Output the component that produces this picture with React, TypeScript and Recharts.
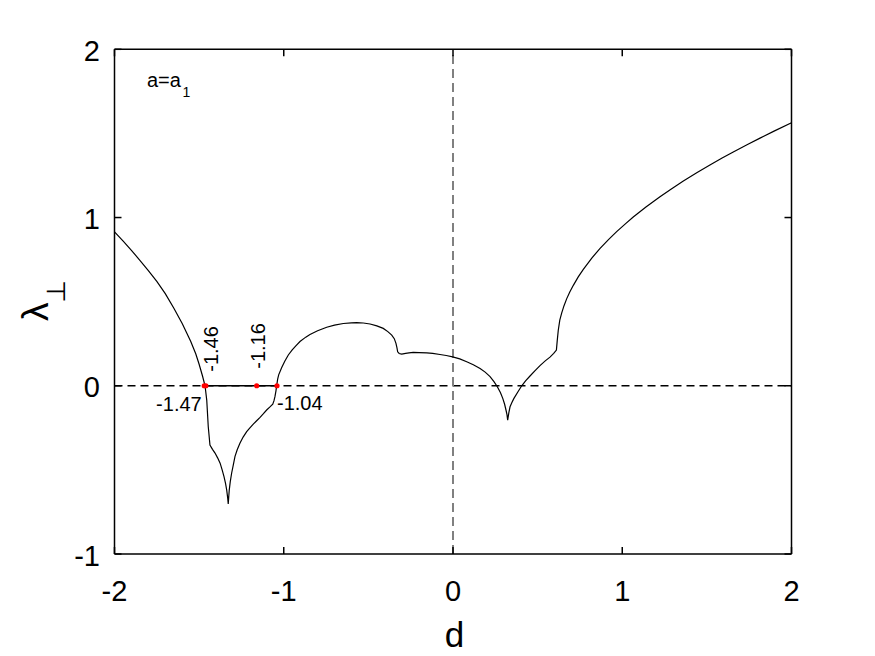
import React from 'react';
import {
  ComposedChart,
  Line,
  Scatter,
  XAxis,
  YAxis,
  ReferenceLine,
} from 'recharts';

// ---- data ----
const dValues = [
  -2.0, -1.95, -1.9, -1.85, -1.8, -1.75, -1.7, -1.65, -1.6, -1.55, -1.52, -1.5, -1.48, -1.465,
  -1.455, -1.446, -1.436, -1.421, -1.406, -1.39, -1.376, -1.364, -1.353, -1.344, -1.337, -1.332, -1.328,
  -1.325, -1.322, -1.316, -1.308, -1.298, -1.288, -1.275, -1.259, -1.24, -1.219, -1.2, -1.18, -1.16, -1.14, -1.12,
  -1.101, -1.083, -1.065, -1.058, -1.052, -1.046, -1.042,
  -1.036, -1.03, -1.012, -0.994, -0.973, -0.95, -0.93, -0.904, -0.87, -0.845, -0.8, -0.746, -0.7, -0.648, -0.6,
  -0.569, -0.53, -0.49, -0.45, -0.412, -0.385, -0.362, -0.347, -0.337, -0.331, -0.327, -0.318, -0.303, -0.28,
  -0.26, -0.235, -0.2, -0.155, -0.12, -0.077, -0.04, -0.002, 0.04, 0.081, 0.12, 0.16, 0.19, 0.219, 0.242, 0.262,
  0.28, 0.294, 0.305, 0.313, 0.319, 0.323, 0.33, 0.337, 0.348, 0.36, 0.383, 0.406, 0.43, 0.455, 0.485, 0.514,
  0.545, 0.573, 0.595, 0.611, 0.616, 0.622, 0.631, 0.642, 0.656, 0.672, 0.69, 0.711, 0.74, 0.77, 0.82, 0.869,
  0.92, 0.967, 1.02, 1.065, 1.14, 1.223, 1.29, 1.361, 1.44, 1.518, 1.59, 1.656, 1.74, 1.814, 1.9, 2.0,
];
const lambdaValues = [
  0.915, 0.861, 0.805, 0.746, 0.685, 0.62, 0.548, 0.462, 0.37, 0.265, 0.19, 0.128, 0.058, 0.0,
  -0.085, -0.244, -0.352, -0.378, -0.4, -0.43, -0.46, -0.5, -0.54, -0.58, -0.62, -0.66, -0.703,
  -0.66, -0.62, -0.57, -0.52, -0.47, -0.42, -0.38, -0.342, -0.305, -0.273, -0.25, -0.228, -0.208, -0.188, -0.166,
  -0.144, -0.127, -0.109, -0.09, -0.065, -0.03, 0.0,
  0.04, 0.065, 0.108, 0.146, 0.183, 0.213, 0.236, 0.263, 0.289, 0.305, 0.327, 0.348, 0.36, 0.37, 0.374,
  0.375, 0.373, 0.367, 0.356, 0.341, 0.322, 0.301, 0.28, 0.252, 0.225, 0.202, 0.192, 0.188, 0.192,
  0.195, 0.198, 0.197, 0.196, 0.192, 0.186, 0.18, 0.172, 0.16, 0.143, 0.125, 0.103, 0.081, 0.054, 0.025, -0.006,
  -0.04, -0.075, -0.11, -0.144, -0.172, -0.205, -0.16, -0.125, -0.1, -0.075, -0.037, 0.0, 0.03, 0.058, 0.09, 0.12,
  0.148, 0.17, 0.192, 0.212, 0.27, 0.33, 0.39, 0.432, 0.476, 0.518, 0.557, 0.597, 0.647, 0.692, 0.759, 0.817,
  0.87, 0.916, 0.964, 1.003, 1.063, 1.124, 1.17, 1.217, 1.266, 1.312, 1.354, 1.39, 1.434, 1.472, 1.515, 1.563,
];
const markD = [-1.47, -1.46, -1.16, -1.04];
const markLambda = [0, 0, 0, 0];
const markLabels = ['-1.47', '-1.46', '-1.16', '-1.04'];
const zeroSegment = [-1.47, -1.04];
const xTicks = [-2, -1, 0, 1, 2];
const yTicks = [-1, 0, 1, 2];
const xDomain = [-2, 2];
const yDomain = [-1, 2];

const curve = dValues.map((d, i) => ({ d, v: lambdaValues[i] }));
const marks = markD.map((d, i) => ({ d, v: markLambda[i], label: markLabels[i] }));

// ---- styles ----
const FONT = '"Liberation Sans", Arial, Helvetica, sans-serif';
const TICK_FS = 29;
const TICK_LEN = 7;
const AXIS_W = 1.5;

const labelPlacement: Record<string, { dx: number; dy: number; anchor: string; rotate: boolean }> = {
  '-1.47': { dx: -2.5, dy: 25, anchor: 'end', rotate: false },
  '-1.46': { dx: 12.5, dy: -14, anchor: 'start', rotate: true },
  '-1.16': { dx: 8.5, dy: -17, anchor: 'start', rotate: true },
  '-1.04': { dx: 0, dy: 24.5, anchor: 'start', rotate: false },
};

const BottomTick = (props: any) => {
  const { x, y, payload } = props;
  return (
    <g>
      <line x1={x} x2={x} y1={y} y2={y - TICK_LEN} stroke="#000" strokeWidth={AXIS_W} />
      <text x={x} y={y + 46.5} textAnchor="middle" fontSize={TICK_FS} fontFamily={FONT} fill="#000">
        {String(payload.value)}
      </text>
    </g>
  );
};
const TopTick = (props: any) => {
  const { x, y } = props;
  return <line x1={x} x2={x} y1={y} y2={y + TICK_LEN} stroke="#000" strokeWidth={AXIS_W} />;
};
const LeftTick = (props: any) => {
  const { x, y, payload } = props;
  return (
    <g>
      <line x1={x} x2={x + TICK_LEN} y1={y} y2={y} stroke="#000" strokeWidth={AXIS_W} />
      <text x={x - 14.5} y={y + 11.5} textAnchor="end" fontSize={TICK_FS} fontFamily={FONT} fill="#000">
        {String(payload.value)}
      </text>
    </g>
  );
};
const RightTick = (props: any) => {
  const { x, y } = props;
  return <line x1={x} x2={x - TICK_LEN} y1={y} y2={y} stroke="#000" strokeWidth={AXIS_W} />;
};

const MarkShape = (props: any) => {
  const { cx, cy, payload } = props;
  const p = labelPlacement[payload.label];
  const tx = cx + p.dx;
  const ty = cy + p.dy;
  return (
    <g>
      <circle cx={cx} cy={cy} r={2.6} fill="#ff0000" />
      <text
        x={tx}
        y={ty}
        textAnchor={p.anchor}
        fontSize={20}
        fontFamily={FONT}
        fill="#000"
        transform={p.rotate ? `rotate(-90, ${tx}, ${ty})` : undefined}
      >
        {payload.label}
      </text>
    </g>
  );
};

const XLabel = (props: any) => {
  const vb = props.viewBox;
  return (
    <text x={vb.x + vb.width / 2 + 1.5} y={vb.y + 92.5} textAnchor="middle" fontSize={35} fontFamily={FONT} fill="#000">
      d
    </text>
  );
};
const YLabel = () => {
  const x = 48;
  const y = 321;
  return (
    <text x={x} y={y} transform={`rotate(-90, ${x}, ${y})`} fontFamily={FONT} fill="#000" textAnchor="start">
      <tspan fontSize={37}>λ</tspan>
      <tspan fontSize={26} dy={17} fontFamily='"DejaVu Sans", sans-serif'>⊥</tspan>
    </text>
  );
};
const NoteLabel = (props: any) => {
  const vb = props.viewBox;
  const x = vb.x + 32.5;
  const y = vb.y + vb.height + 38;
  return (
    <text x={x} y={y} fontFamily={FONT} fill="#000">
      <tspan fontSize={20}>a=a</tspan>
      <tspan fontSize={14} dx={1.5} dy={9.5}>1</tspan>
    </text>
  );
};

export default function App() {
  return (
    <div style={{ position: 'absolute', left: 0, top: 0, width: 875, height: 656, background: '#fff' }}>
      <ComposedChart width={875} height={656} data={curve} margin={{ top: 0, right: 0, bottom: 0, left: 0 }}>
        <XAxis
          xAxisId="b"
          orientation="bottom"
          type="number"
          dataKey="d"
          domain={xDomain}
          ticks={xTicks}
          interval={0}
          allowDataOverflow
          height={102}
          tickSize={0}
          tickMargin={0}
          tickLine={false}
          tick={<BottomTick />}
          axisLine={{ stroke: '#000', strokeWidth: AXIS_W }}
          label={<XLabel />}
        />
        <XAxis
          xAxisId="t"
          orientation="top"
          type="number"
          dataKey="d"
          domain={xDomain}
          ticks={xTicks}
          interval={0}
          allowDataOverflow
          height={49.3}
          tickSize={0}
          tickMargin={0}
          tickLine={false}
          tick={<TopTick />}
          axisLine={{ stroke: '#000', strokeWidth: AXIS_W }}
          label={<NoteLabel />}
        />
        <YAxis
          yAxisId="l"
          orientation="left"
          type="number"
          dataKey="v"
          domain={yDomain}
          ticks={yTicks}
          interval={0}
          allowDataOverflow
          width={114.5}
          tickSize={0}
          tickMargin={0}
          tickLine={false}
          tick={<LeftTick />}
          axisLine={{ stroke: '#000', strokeWidth: AXIS_W }}
          label={<YLabel />}
        />
        <YAxis
          yAxisId="r"
          orientation="right"
          type="number"
          dataKey="v"
          domain={yDomain}
          ticks={yTicks}
          interval={0}
          allowDataOverflow
          width={83.5}
          tickSize={0}
          tickMargin={0}
          tickLine={false}
          tick={<RightTick />}
          axisLine={{ stroke: '#000', strokeWidth: AXIS_W }}
        />
        <ReferenceLine xAxisId="b" yAxisId="l" y={0} stroke="#000" strokeWidth={1.5} strokeDasharray="8 5" />
        <ReferenceLine xAxisId="b" yAxisId="l" x={0} stroke="#808080" strokeWidth={2} strokeDasharray="9 5" />
        <ReferenceLine
          xAxisId="b"
          yAxisId="l"
          segment={[
            { x: zeroSegment[0], y: 0 },
            { x: zeroSegment[1], y: 0 },
          ]}
          stroke="#000"
          strokeWidth={1.3}
        />
        <Line
          xAxisId="b"
          yAxisId="l"
          type="linear"
          dataKey="v"
          stroke="#000"
          strokeWidth={1.2}
          dot={false}
          activeDot={false}
          isAnimationActive={false}
        />
        <Scatter
          xAxisId="b"
          yAxisId="l"
          data={marks}
          dataKey="v"
          shape={<MarkShape />}
          isAnimationActive={false}
        />
      </ComposedChart>
    </div>
  );
}
